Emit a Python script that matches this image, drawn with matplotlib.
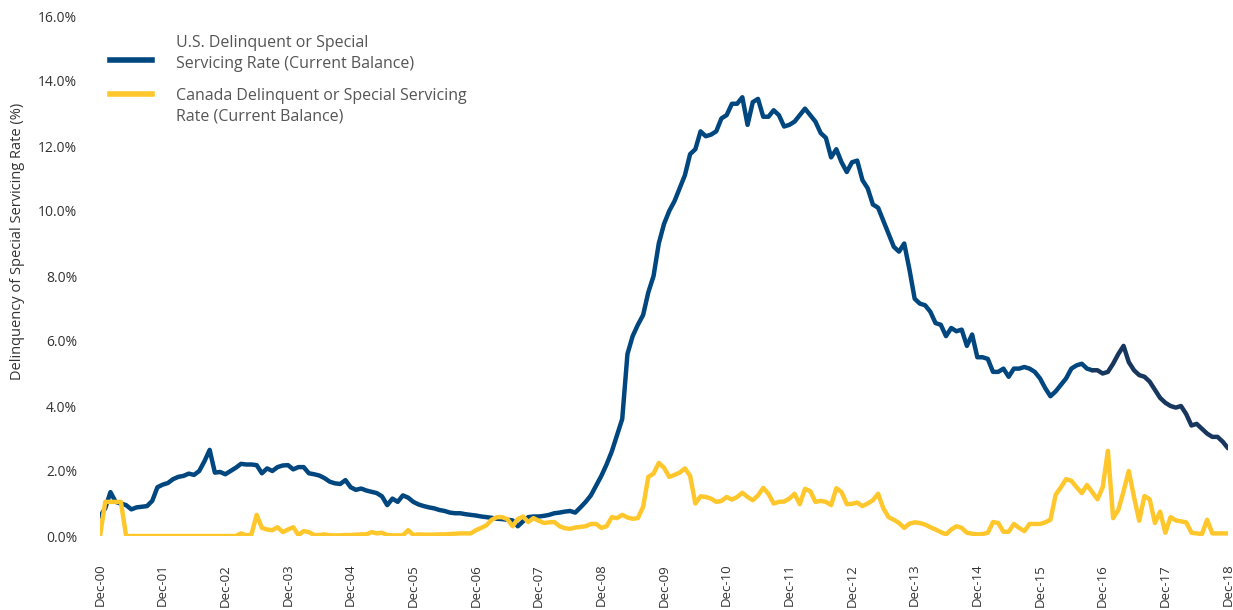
import matplotlib
matplotlib.use("Agg")
import matplotlib.pyplot as plt
from matplotlib.lines import Line2D
from matplotlib.legend_handler import HandlerLine2D

plt.rcParams['font.family'] = ['Open Sans', 'DejaVu Sans']

# Monthly data Dec-00 .. Dec-18 (percent)
us_rate = [
    0.6, 0.85, 1.35, 1.05, 1.0, 0.95, 0.82, 0.88, 0.9, 0.92, 1.08, 1.5,
    1.58, 1.63, 1.75, 1.82, 1.85, 1.92, 1.88, 2.0, 2.3, 2.65, 1.95, 1.97,
    1.9, 2.0, 2.1, 2.22, 2.2, 2.2, 2.18, 1.93, 2.08, 2.0, 2.12, 2.17,
    2.18, 2.05, 2.12, 2.12, 1.93, 1.9, 1.86, 1.78, 1.67, 1.62, 1.6, 1.72,
    1.5, 1.42, 1.46, 1.4, 1.36, 1.32, 1.22, 0.95, 1.15, 1.05, 1.25, 1.18,
    1.05, 0.97, 0.92, 0.88, 0.85, 0.8, 0.77, 0.72, 0.7, 0.7, 0.67, 0.65,
    0.63, 0.6, 0.58, 0.56, 0.53, 0.52, 0.5, 0.48, 0.3, 0.45, 0.58, 0.6,
    0.6, 0.62, 0.65, 0.7, 0.72, 0.75, 0.77, 0.72, 0.88, 1.05, 1.25, 1.55,
    1.85, 2.2, 2.6, 3.1, 3.6, 5.6, 6.15, 6.5, 6.8, 7.5, 8.0, 9.0,
    9.6, 10.0, 10.3, 10.7, 11.1, 11.75, 11.9, 12.45, 12.3, 12.35, 12.45, 12.85,
    12.95, 13.3, 13.3, 13.5, 12.65, 13.35, 13.45, 12.9, 12.9, 13.1, 12.95, 12.6,
    12.65, 12.75, 12.95, 13.15, 12.95, 12.75, 12.4, 12.25, 11.65, 11.9, 11.5, 11.2,
    11.5, 11.55, 10.95, 10.7, 10.2, 10.1, 9.7, 9.3, 8.9, 8.75, 9.0, 8.2,
    7.3, 7.15, 7.1, 6.9, 6.55, 6.5, 6.15, 6.4, 6.3, 6.35, 5.85, 6.2,
    5.5, 5.5, 5.45, 5.05, 5.05, 5.15, 4.9, 5.15, 5.15, 5.2, 5.15, 5.05,
    4.85, 4.55, 4.3, 4.45, 4.65, 4.85, 5.15, 5.25, 5.3, 5.15, 5.1, 5.1,
    5.0, 5.05, 5.3, 5.6, 5.85, 5.35, 5.1, 4.95, 4.9, 4.75, 4.5, 4.25,
    4.1, 4.0, 3.95, 4.0, 3.75, 3.4, 3.45, 3.3, 3.15, 3.05, 3.05, 2.9,
    2.7,
]

canada_rate = [
    0.0, 1.05, 1.05, 1.05, 1.05, 0.0, 0.0, 0.0, 0.0, 0.0, 0.0, 0.0,
    0.0, 0.0, 0.0, 0.0, 0.0, 0.0, 0.0, 0.0, 0.0, 0.0, 0.0, 0.0,
    0.0, 0.0, 0.0, 0.08, 0.02, 0.05, 0.65, 0.25, 0.2, 0.18, 0.27, 0.12,
    0.2, 0.27, 0.03, 0.15, 0.12, 0.03, 0.03, 0.05, 0.02, 0.02, 0.02, 0.03,
    0.03, 0.04, 0.05, 0.05, 0.12, 0.08, 0.1, 0.03, 0.02, 0.02, 0.02, 0.18,
    0.03, 0.05, 0.04, 0.04, 0.04, 0.05, 0.05, 0.06, 0.07, 0.08, 0.08, 0.08,
    0.18, 0.25, 0.33, 0.5, 0.58, 0.58, 0.52, 0.3, 0.52, 0.6, 0.43, 0.55,
    0.47, 0.4, 0.42, 0.43, 0.3, 0.24, 0.22, 0.26, 0.28, 0.3, 0.37, 0.37,
    0.25, 0.3, 0.58, 0.55, 0.65, 0.57, 0.53, 0.55, 0.9, 1.82, 1.92, 2.25,
    2.1, 1.82, 1.88, 1.95, 2.08, 1.85, 1.0, 1.22, 1.2, 1.15, 1.05, 1.08,
    1.2, 1.12, 1.2, 1.33, 1.2, 1.1, 1.25, 1.48, 1.3, 1.0, 1.05, 1.06,
    1.15, 1.3, 0.98, 1.45, 1.38, 1.05, 1.08, 1.05, 0.95, 1.47, 1.35, 0.98,
    0.99, 1.03, 0.92, 1.0, 1.1, 1.3, 0.85, 0.58, 0.5, 0.4, 0.25, 0.38,
    0.42, 0.4, 0.35, 0.27, 0.2, 0.12, 0.05, 0.2, 0.3, 0.25, 0.1, 0.07,
    0.05, 0.06, 0.1, 0.43, 0.4, 0.13, 0.13, 0.37, 0.25, 0.15, 0.37, 0.37,
    0.37, 0.42, 0.5, 1.27, 1.5, 1.75, 1.7, 1.5, 1.32, 1.57, 1.35, 1.13,
    1.5, 2.62, 0.55, 0.8, 1.38, 2.0, 1.2, 0.47, 1.23, 1.13, 0.4, 0.75,
    0.1, 0.58, 0.48, 0.45, 0.42, 0.1, 0.08, 0.06, 0.5, 0.08, 0.08, 0.08,
    0.08,
]

tick_labels = ["Dec-%02d" % y for y in range(0, 19)]
y_ticks = [0, 2, 4, 6, 8, 10, 12, 14, 16]

assert len(us_rate) == 217 and len(canada_rate) == 217

months = list(range(len(us_rate)))

US_COLOR = "#00467f"
US_DARK = "#17375e"
CA_COLOR = "#ffc72c"


class ShiftedLineHandler(HandlerLine2D):
    """Line legend handle shifted vertically by dy points (positive = up)."""
    def __init__(self, dy, **kw):
        super().__init__(**kw)
        self.dy = dy

    def create_artists(self, legend, orig_handle, xdescent, ydescent,
                       width, height, fontsize, trans):
        return super().create_artists(legend, orig_handle, xdescent,
                                      ydescent - 2 * self.dy, width, height,
                                      fontsize, trans)


fig = plt.figure(figsize=(12.33, 6.10), dpi=100)
ax = fig.add_axes([100 / 1233, 74 / 610, 1128 / 1233, 520 / 610])

split = 190
ax.plot(months[:split + 1], us_rate[:split + 1], color=US_COLOR, lw=3.2,
        solid_joinstyle="round", solid_capstyle="round", zorder=2)
ax.plot(months[split:], us_rate[split:], color=US_DARK, lw=3.2,
        solid_joinstyle="round", solid_capstyle="round", zorder=2)
ax.plot(months, canada_rate, color=CA_COLOR, lw=3.2,
        solid_joinstyle="round", solid_capstyle="round", zorder=3)

ax.set_xlim(0, 216)
ax.set_ylim(0, 16)
ax.set_xticks(list(range(0, 217, 12)))
ax.set_xticklabels(tick_labels, rotation=90, fontsize=9.5, color="#333333")
ax.set_yticks(y_ticks)
ax.set_yticklabels(["%.1f%%" % v for v in y_ticks], fontsize=10, color="#333333")
ax.tick_params(axis="both", length=0)
ax.tick_params(axis="y", pad=16.5)
ax.tick_params(axis="x", pad=20)
for s in ax.spines.values():
    s.set_visible(False)

ax.set_ylabel("Delinquency of Special Servicing Rate (%)", fontsize=10.5,
              color="#333333")
ax.yaxis.set_label_coords(-0.0665, 0.567)

h_us = Line2D([0], [0], color=US_COLOR, lw=4)
h_ca = Line2D([0], [0], color=CA_COLOR, lw=4)
labels = ["U.S. Delinquent or Special\nServicing Rate (Current Balance)",
          "Canada Delinquent or Special Servicing\nRate (Current Balance)"]
leg = ax.legend([h_us, h_ca], labels, loc="upper left",
                bbox_to_anchor=(0.0032, 0.975), frameon=False,
                fontsize=11.5, handlelength=2.6, handletextpad=1.55,
                labelspacing=1.0, borderaxespad=0,
                handler_map={h_us: ShiftedLineHandler(-4.3),
                             h_ca: ShiftedLineHandler(9.0)})
for t in leg.get_texts():
    t.set_color("#555555")
    t.set_linespacing(1.38)

fig.savefig("out.png", dpi=100)
